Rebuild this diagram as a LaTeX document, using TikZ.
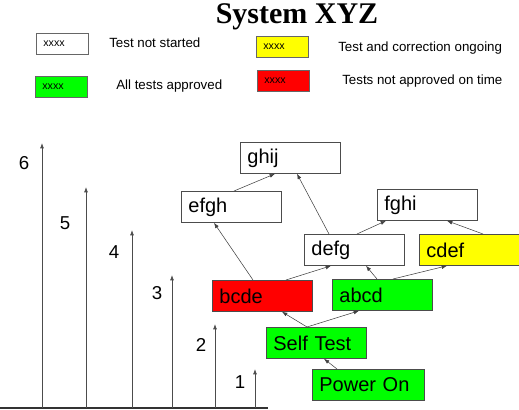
\documentclass[tikz,border=0pt]{standalone}
\usepackage{fontspec}
\setmainfont{Liberation Sans}
\newfontfamily\titlefont{Liberation Serif}
\usetikzlibrary{arrows.meta,calc}
\definecolor{okgreen}{RGB}{0,255,0}
\definecolor{badred}{RGB}{255,0,0}
\definecolor{ongoyellow}{RGB}{255,255,0}
\begin{document}
\begin{tikzpicture}[x=0.75pt,y=-0.75pt,
  box/.style={draw=black!70, line width=0.6pt, anchor=north west, minimum height=23.25pt,
    text width=64.5pt, inner xsep=5.25pt, align=left, font=\fontsize{15}{18}\selectfont},
  widebox/.style={text width=73.5pt},
  legbox/.style={draw=black!60, line width=0.6pt, anchor=north west, minimum height=15.5pt,
    text width=28.5pt, inner xsep=5.25pt, align=left, font=\fontsize{8}{9}\selectfont},
  legtxt/.style={anchor=west, font=\fontsize{10}{12}\selectfont, inner sep=0pt},
  num/.style={font=\fontsize{14}{16}\selectfont, inner sep=0pt},
  link/.style={draw=black!75, line width=0.4pt, -{Latex[length=4pt,width=3pt]}},
  axarr/.style={draw=black!70, line width=0.6pt, -{Latex[length=4pt,width=3pt]}}
]
\useasboundingbox (0,0) rectangle (519,410);

% title
\node[font=\titlefont\bfseries\fontsize{22.5}{26}\selectfont, anchor=base, inner sep=0pt] (title) at (297,24) {System XYZ};

% legend
\node[legbox] (lw) at (36,33) {xxxx};
\node[legtxt] (lwt) at (109,43) {Test not started};
\node[legbox, fill=ongoyellow] (ly) at (256,36) {xxxx};
\node[legtxt] (lyt) at (338,48) {Test and correction ongoing};
\node[legbox, fill=okgreen] (lg) at (35,76) {xxxx};
\node[legtxt] (lgt) at (116,86) {All tests approved};
\node[legbox, fill=badred] (lr) at (257,70) {xxxx};
\node[legtxt] (lrt) at (342,81) {Tests not approved on time};

% axis and level arrows
\coordinate (ax0) at (0,408);
\coordinate (ax1) at (268,408);
\draw[black!80, line width=1.1pt] (ax0) -- (ax1);
\foreach \n/\x/\t/\lx/\ly in {6/42/143/24/163, 5/86/187/65/223, 4/132/230/114/252, 3/172/275/157/293, 2/215/324/201/345, 1/255/369/240/382}{
  \coordinate (b\n) at (\x,408);
  \coordinate (t\n) at (\x,\t);
  \draw[axarr] (b\n) -- (t\n);
  \node[num] (l\n) at (\lx,\ly) {\n};
}

% nodes
\node[box] (ghij) at (240,142) {ghij};
\node[box] (efgh) at (181,191) {efgh};
\node[box] (fghi) at (377,189) {fghi};
\node[box] (defg) at (304,234) {defg};
\node[box, fill=ongoyellow] (cdef) at (419,234) {cdef};
\node[box, fill=badred] (bcde) at (212,280) {bcde};
\node[box, fill=okgreen] (abcd) at (332,279) {abcd};
\node[box, fill=okgreen] (st) at (266,327) {Self Test};
\node[box, widebox, fill=okgreen] (pwr) at (312,369) {Power On};

% connectors
\draw[link] ($(pwr.north west)+(25,0)$) -- ($(st.south west)+(58,0)$);
\draw[link] ($(st.north west)+(41,0)$) -- ($(bcde.south west)+(70,0)$);
\draw[link] ($(st.north west)+(41,0)$) -- ($(abcd.south west)+(27,0)$);
\draw[link] ($(bcde.north west)+(41,0)$) -- ($(efgh.south west)+(33,0)$);
\draw[link] ($(bcde.north west)+(74,0)$) -- ($(defg.south west)+(27,0)$);
\draw[link] ($(abcd.north west)+(45,0)$) -- ($(defg.south west)+(62,0)$);
\draw[link] ($(abcd.north west)+(61,0)$) -- ($(cdef.south west)+(28,0)$);
\draw[link] ($(defg.north west)+(25,0)$) -- ($(ghij.south west)+(57,0)$);
\draw[link] ($(defg.north west)+(53,0)$) -- ($(fghi.south west)+(9,0)$);
\draw[link] ($(cdef.north west)+(64,0)$) -- ($(fghi.south west)+(70,0)$);
\draw[link] ($(efgh.north west)+(53,0)$) -- ($(ghij.south west)+(35,0)$);
\end{tikzpicture}
\end{document}
